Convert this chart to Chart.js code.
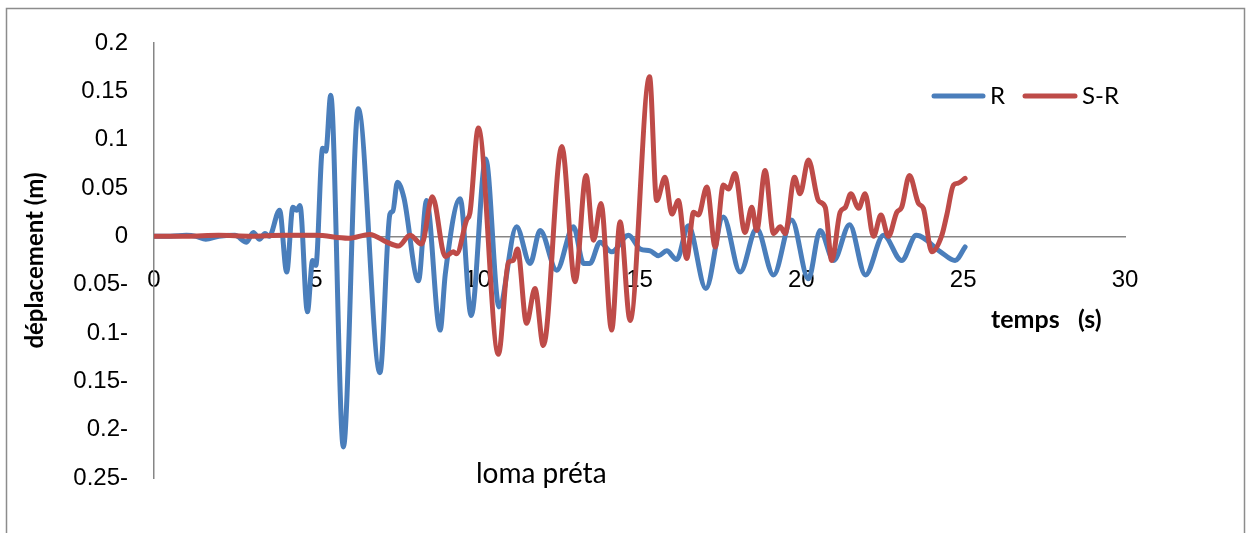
<!DOCTYPE html>
<html><head><meta charset="utf-8">
<script src="https://cdn.jsdelivr.net/npm/chart.js@4/dist/chart.umd.min.js"></script>
<style>html,body{margin:0;padding:0;background:#fff;}#wrap{width:1247px;height:533px;position:relative;}</style>
</head><body><div id="wrap"><canvas id="c" width="1247" height="533"></canvas></div>
<script>
// ---- data (time in s, displacement in m) ----
const tR  = [0,0.5,1.0,1.3,1.6,2.0,2.5,2.86,3.07,3.26,3.43,3.56,3.88,4.1,4.29,4.41,4.51,4.74,4.9,5.0,5.21,5.31,5.46,5.85,6.31,6.98,7.29,7.38,7.52,7.72,8.17,8.42,8.84,9.0,9.46,9.8,10.25,10.66,11.2,11.62,11.93,12.44,12.96,13.27,13.47,13.78,14.14,14.66,15.02,15.33,15.59,15.84,16.15,16.51,17.05,17.59,18.11,18.62,19.14,19.7,20.22,20.58,21.0,21.49,21.98,22.54,23.1,23.55,24.3,24.75,25.06];
const vR  = [0,0,0.001,0,-0.003,0,0.001,-0.006,0.004,-0.003,0.003,0,0.027,-0.037,0.030,0.027,0.032,-0.078,-0.025,-0.030,0.091,0.088,0.146,-0.218,0.132,-0.141,0.023,0.026,0.056,0.040,-0.046,0.037,-0.097,-0.039,0.039,-0.082,0.080,-0.073,0.010,-0.028,0.006,-0.035,0.010,-0.028,-0.028,-0.006,-0.016,0.001,-0.013,-0.015,-0.020,-0.015,-0.024,0.011,-0.054,0.020,-0.037,0.008,-0.040,0.017,-0.044,0.006,-0.025,0.012,-0.040,0.001,-0.025,0.001,-0.016,-0.025,-0.011];
const tSR = [0,1,2,3,4,5,6.0,6.67,7.19,7.55,7.91,8.27,8.6,9.0,9.25,9.35,9.66,9.76,10.02,10.64,10.95,11.1,11.23,11.51,11.77,12.03,12.6,13.01,13.35,13.58,13.81,14.14,14.4,14.71,15.31,15.53,15.79,16.0,16.2,16.46,16.67,16.82,17.08,17.34,17.59,17.75,17.95,18.26,18.47,18.62,18.88,19.14,19.35,19.5,19.79,19.96,20.22,20.53,20.74,20.94,21.2,21.36,21.53,21.77,21.97,22.23,22.46,22.69,22.95,23.1,23.34,23.62,23.77,24.03,24.34,24.5,24.7,24.85,25.06];
const vSR = [0,0,0.001,0,0.001,0.001,-0.002,0.002,-0.006,-0.010,0.001,-0.008,0.041,-0.021,-0.016,-0.018,0.017,0.024,0.112,-0.122,-0.027,-0.025,-0.013,-0.090,-0.054,-0.113,0.093,-0.047,0.063,-0.004,0.034,-0.097,0.015,-0.087,0.165,0.037,0.061,0.023,0.037,-0.023,0.025,0.022,0.051,-0.011,0.053,0.049,0.065,0.004,0.030,0.006,0.068,0.003,0.010,0.003,0.061,0.044,0.079,0.037,0.030,-0.025,0.025,0.030,0.044,0.029,0.044,0.0,0.022,0.0,0.025,0.030,0.063,0.034,0.029,-0.016,0.001,0.023,0.053,0.055,0.060];
const seriesNames  = ['R', 'S-R'];
const seriesColors = ['#4a7ebb', '#be4b48'];
const xTickValues  = [0, 5, 10, 15, 20, 25, 30];
const yTickLabels  = ['0.25-','0.2-','0.15-','0.1-','0.05-','0','0.05','0.1','0.15','0.2'];
const chartTitle = 'loma préta';
const xTitle = 'temps   (s)';
const yTitle = 'déplacement (m)';

const toPts = (ts, vs) => ts.map((t, i) => ({x: t, y: vs[i]}));

const decor = {
  id: 'decor',
  beforeDraw(chart) {
    const ctx = chart.ctx;
    ctx.save();
    ctx.strokeStyle = '#8c8c8c';
    ctx.lineWidth = 1.5;
    ctx.strokeRect(6.5, 8.5, 1238, 600);
    ctx.restore();
  },
  afterDraw(chart) {
    const ctx = chart.ctx;
    ctx.save();
    // legend
    const legendY = 96;
    const items = [{x1: 934, x2: 983, tx: 990}, {x1: 1025, x2: 1075, tx: 1082}];
    chart.data.datasets.forEach((ds, i) => {
      const it = items[i];
      ctx.strokeStyle = ds.borderColor;
      ctx.lineWidth = 5;
      ctx.lineCap = 'round';
      ctx.beginPath(); ctx.moveTo(it.x1, legendY); ctx.lineTo(it.x2, legendY); ctx.stroke();
      ctx.fillStyle = '#000';
      ctx.font = '24px Lato';
      ctx.textBaseline = 'alphabetic';
      ctx.textAlign = 'left';
      ctx.fillText(ds.label, it.tx, 104);
    });
    // chart title (bottom)
    ctx.font = '28px Lato';
    ctx.fillText(chartTitle, 476, 483);
    // x axis title
    ctx.font = 'bold 25px Lato';
    ctx.fillText(xTitle, 991, 328);
    ctx.restore();
  }
};

new Chart(document.getElementById('c'), {
  type: 'line',
  data: {
    datasets: [
      {label: seriesNames[0], data: toPts(tR, vR), borderColor: seriesColors[0], backgroundColor: seriesColors[0], order: 1},
      {label: seriesNames[1], data: toPts(tSR, vSR), borderColor: seriesColors[1], backgroundColor: seriesColors[1], order: 0}
    ]
  },
  options: {
    responsive: false,
    animation: false,
    devicePixelRatio: 1,
    layout: {padding: {left: 0, top: 43, right: 122, bottom: 55}},
    elements: {
      line: {borderWidth: 5, cubicInterpolationMode: 'monotone', borderCapStyle: 'round', borderJoinStyle: 'round', fill: false},
      point: {radius: 0, hoverRadius: 0}
    },
    plugins: {legend: {display: false}, title: {display: false}, tooltip: {enabled: false}},
    scales: {
      x: {
        type: 'linear', min: 0, max: 30, position: {y: 0},
        afterBuildTicks: s => { s.ticks = xTickValues.map(v => ({value: v})); },
        ticks: {padding: 30, maxRotation: 0, autoSkip: false, color: '#000',
                font: {family: '"Liberation Sans", Arial, sans-serif', size: 24},
                callback: v => String(v)},
        grid: {color: 'rgba(0,0,0,0)', drawTicks: false},
        border: {display: true, color: '#868686', width: 1.5}
      },
      y: {
        type: 'linear', min: -0.25, max: 0.2,
        ticks: {stepSize: 0.05, padding: 26, color: '#000',
                font: {family: '"Liberation Sans", Arial, sans-serif', size: 24},
                callback: (v, i) => yTickLabels[i]},
        grid: {color: 'rgba(0,0,0,0)', drawTicks: false},
        border: {display: true, color: '#868686', width: 1.5},
        title: {display: true, text: yTitle, color: '#000',
                font: {family: 'Lato', size: 24, weight: 'bold'}, padding: {top: 21, bottom: 0}},
        afterFit: s => { s.width = 154; }
      }
    }
  },
  plugins: [decor]
});
</script></body></html>
